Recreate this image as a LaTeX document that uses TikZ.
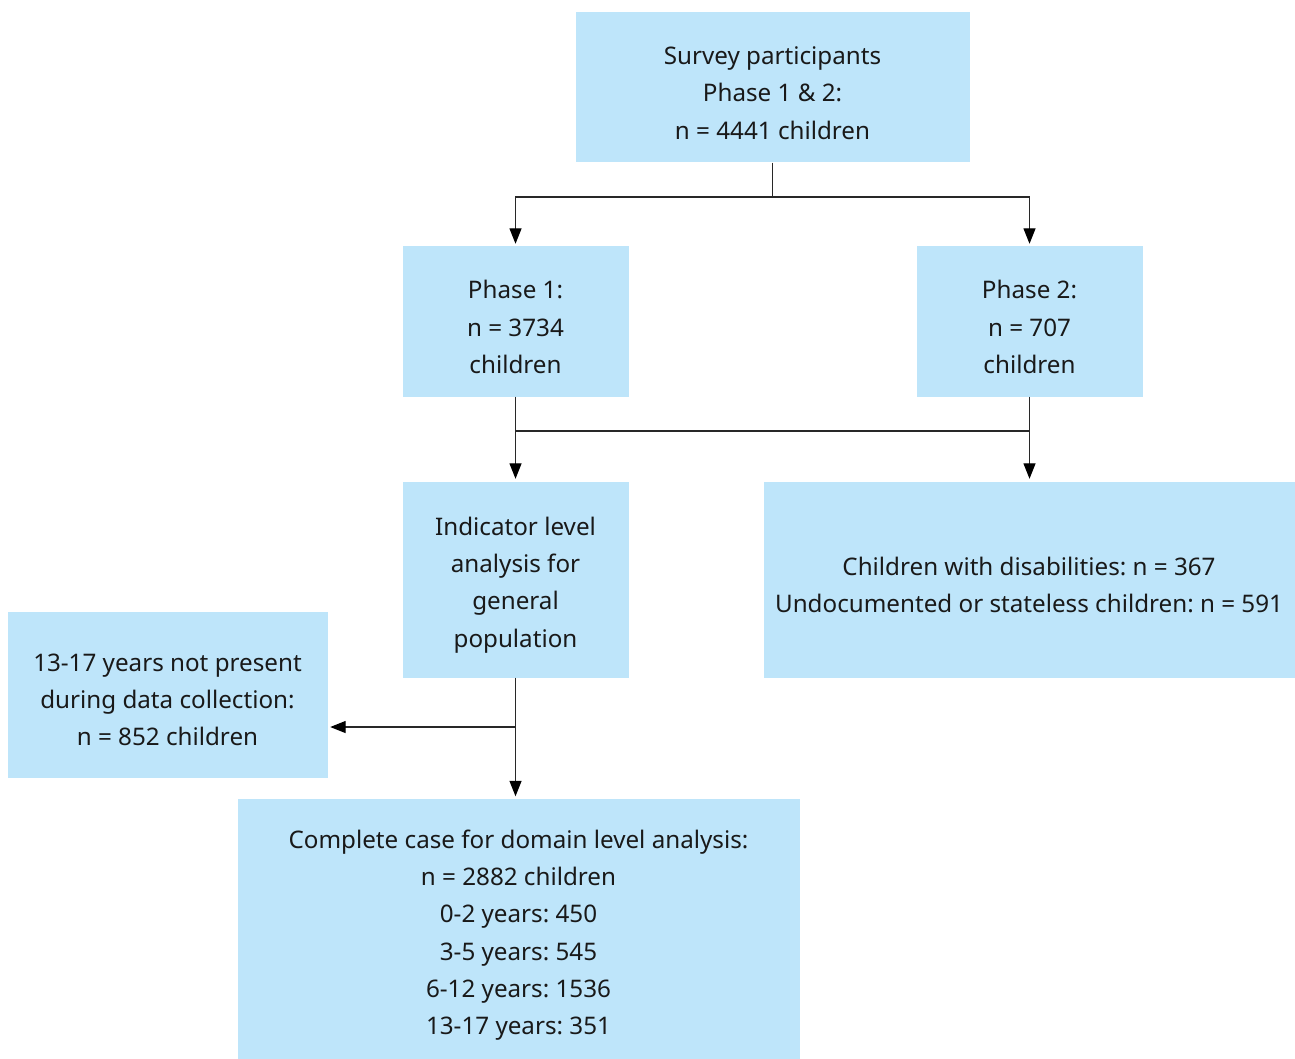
\documentclass[tikz,border=0pt]{standalone}
\usepackage{fontspec}
\setmainfont{Noto Sans}
\usetikzlibrary{arrows.meta}
\definecolor{boxfill}{RGB}{190,229,250}
\definecolor{linec}{RGB}{40,40,40}
\definecolor{textc}{RGB}{25,25,25}
\begin{document}
\frenchspacing
\begin{tikzpicture}[x=1pt,y=-1pt,
  box/.style={fill=boxfill, draw=none, inner sep=0pt},
  txt/.style={inner sep=0pt, align=center, text=textc,
    font=\frenchspacing\fontsize{24.2}{37.3}\selectfont},
  conn/.style={draw=linec, line width=1.3pt},
  arr/.style={conn, -{Triangle[length=15.5pt,width=12pt,color=black]}, shorten >=2.5pt}]
\useasboundingbox (0,0) rectangle (1295,1059);
\node[box, minimum width=394pt, minimum height=150pt] (t) at (772.5,87.5) {};
\node[box, minimum width=226pt, minimum height=150pt] (p1) at (515.5,321.5) {};
\node[box, minimum width=226pt, minimum height=150pt] (p2) at (1029.5,321.5) {};
\node[box, minimum width=226pt, minimum height=196pt] (i) at (515.5,579.5) {};
\node[box, minimum width=531pt, minimum height=196pt] (r) at (1029,579.5) {};
\node[box, minimum width=320pt, minimum height=166pt] (l) at (167.5,694.5) {};
\node[box, minimum width=562pt, minimum height=260pt] (b) at (518.5,929) {};
\node[txt] (tt) at ([yshift=-5.5pt]t.center) {Survey participants\\Phase 1 \& 2:\\n = 4441 children};
\node[txt] (p1t) at ([yshift=-5.5pt]p1.center) {Phase 1:\\n = 3734\\children};
\node[txt] (p2t) at ([yshift=-5.5pt]p2.center) {Phase 2:\\n = 707\\children};
\node[txt] (it) at ([yshift=-5.5pt]i.center) {Indicator level\\analysis for\\general\\population};
\node[txt] (rt) at ([yshift=-5.5pt]r.center) {Children with disabilities: n = 367\\Undocumented or stateless children: n = 591};
\node[txt] (lt) at ([yshift=-5.5pt]l.center) {13-17 years not present\\during data collection:\\n = 852 children};
\node[txt] (bt) at ([yshift=-6pt]b.center) {Complete case for domain level analysis:\\n = 2882 children\\0-2 years: 450\\3-5 years: 545\\6-12 years: 1536\\13-17 years: 351};
\coordinate (tj) at (772.5,197);
\draw[conn] (t.south) -- (tj);
\draw[arr] (tj) -| (p1.north);
\draw[arr] (tj) -| (p2.north);
\draw[arr] (p1.south) -- (i.north);
\draw[arr] (p2.south) -- (p2.south |- r.north);
\coordinate (mj1) at (515.5,431);
\coordinate (mj2) at (1029.5,431);
\draw[conn] (mj1) -- (mj2);
\draw[arr] (i.south) -- (i.south |- b.north);
\coordinate (lj) at (515.5,727);
\draw[arr] (lj) -- (l.east |- lj);
\end{tikzpicture}
\end{document}
